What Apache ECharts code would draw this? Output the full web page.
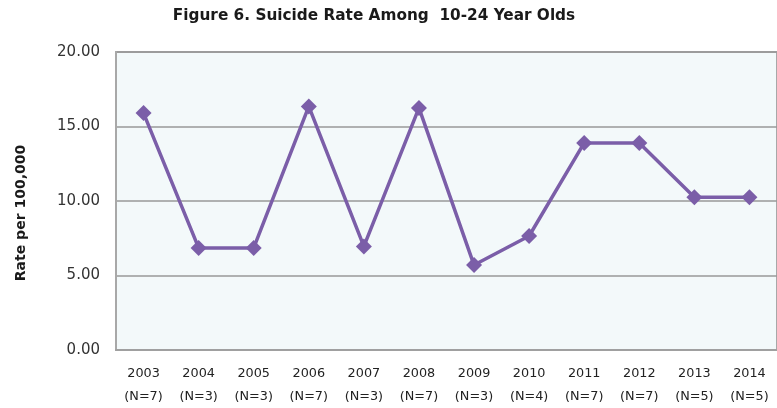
<!DOCTYPE html>
<html>
<head>
<meta charset="utf-8">
<script src="https://cdn.jsdelivr.net/npm/echarts@6/dist/echarts.min.js"></script>
<style>
  html, body { margin: 0; padding: 0; background: #ffffff; }
  #chart { width: 777px; height: 408px; }
</style>
</head>
<body>
<div id="chart"></div>
<script>
// Years and case counts shown under each year
const years = ['2003', '2004', '2005', '2006', '2007', '2008', '2009', '2010', '2011', '2012', '2013', '2014'];
const counts = [7, 3, 3, 7, 3, 7, 3, 4, 7, 7, 5, 5];
// Suicide rate per 100,000 among 10-24 year olds
const rates = [15.9, 6.85, 6.85, 16.35, 6.95, 16.25, 5.7, 7.65, 13.9, 13.9, 10.25, 10.25];
const yTicks = [0, 5, 10, 15, 20];

const categories = years.map((y, i) => y + '\n(N=' + counts[i] + ')');

const chart = echarts.init(document.getElementById('chart'));
chart.setOption({
  animation: false,
  backgroundColor: '#ffffff',
  title: {
    text: 'Figure 6. Suicide Rate Among  10-24 Year Olds',
    left: 369,
    textAlign: 'center',
    top: 4,
    textStyle: { fontFamily: 'DejaVu Sans', fontWeight: 'bold', fontSize: 15.3, color: '#1a1a1a' }
  },
  graphic: [{
    type: 'text',
    x: 21, y: 213,
    rotation: Math.PI / 2,
    style: {
      text: 'Rate per 100,000',
      fontFamily: 'DejaVu Sans', fontWeight: 'bold', fontSize: 14, fill: '#1a1a1a',
      align: 'center', verticalAlign: 'middle'
    }
  }],
  grid: {
    left: 116, right: -3, top: 52, bottom: 58,
    show: true, backgroundColor: '#f3f9fa', borderColor: '#a8a8a8', borderWidth: 2
  },
  xAxis: {
    type: 'category',
    data: categories,
    boundaryGap: true,
    axisLine: { show: true, lineStyle: { color: '#a0a0a0', width: 2 } },
    axisTick: { show: false },
    axisLabel: {
      fontFamily: 'DejaVu Sans', fontSize: 12.8, color: '#222222',
      lineHeight: 23, margin: 12, interval: 0
    }
  },
  yAxis: {
    type: 'value',
    min: yTicks[0], max: yTicks[yTicks.length - 1], interval: 5,
    axisLine: { show: true, lineStyle: { color: '#a8a8a8', width: 2 } },
    axisTick: { show: false },
    axisLabel: {
      fontFamily: 'DejaVu Sans', fontSize: 15, color: '#333333', margin: 16,
      formatter: v => v.toFixed(2)
    },
    splitLine: { show: true, lineStyle: { color: '#999999', width: 1.6 } }
  },
  series: [{
    type: 'line',
    data: rates,
    symbol: 'diamond',
    symbolSize: 16,
    lineStyle: { color: '#7b5ea8', width: 3.5 },
    itemStyle: { color: '#7b5ea8' }
  }]
});
</script>
</body>
</html>
